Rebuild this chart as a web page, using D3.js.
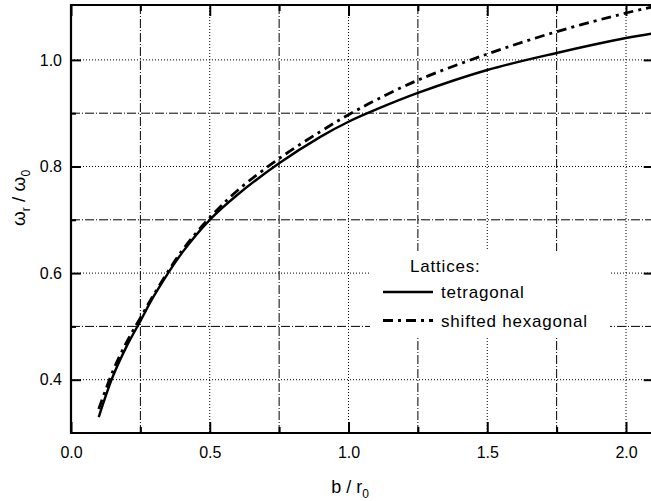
<!DOCTYPE html>
<html>
<head>
<meta charset="utf-8">
<script src="https://cdn.jsdelivr.net/npm/d3@7"></script>
<style>
  html, body { margin: 0; padding: 0; background: #fff; }
  svg { display: block; }
  text { font-family: "Liberation Sans", Arial, Helvetica, sans-serif; fill: #000; }
</style>
</head>
<body>
<svg id="chart" width="651" height="501"></svg>
<script>
// ---- data ----
const bValues = [0.1, 0.15, 0.2, 0.25, 0.3, 0.4, 0.5, 0.6, 0.75, 0.9, 1.0, 1.1, 1.25, 1.5, 1.75, 2.0, 2.1];
const tetragonal = [0.330, 0.405, 0.462, 0.510, 0.558, 0.638, 0.700, 0.747, 0.806, 0.856, 0.884, 0.907, 0.938, 0.981, 1.013, 1.041, 1.050];
const shiftedHexagonal = [0.345, 0.415, 0.470, 0.516, 0.561, 0.642, 0.704, 0.755, 0.815, 0.866, 0.897, 0.925, 0.962, 1.011, 1.053, 1.088, 1.100];
const seriesNames = ["tetragonal", "shifted hexagonal"];
const xTickLabels = ["0.0", "0.5", "1.0", "1.5", "2.0"];
const yTickLabels = ["0.4", "0.6", "0.8", "1.0"];
const legendTitle = "Lattices:";

// ---- layout ----
const svg = d3.select("#chart");
const L = 71, B = 433, T = 5;
const x = d3.scaleLinear().domain([0, 2.1]).range([L, L + 2.1 * 277.5]);
const y = d3.scaleLinear().domain([0.3, 1.103]).range([B, T]);
const R = x(2.1);

svg.append("clipPath").attr("id", "plotclip")
  .append("rect").attr("x", L).attr("y", T).attr("width", R - L).attr("height", B - T);

const grid = svg.append("g").attr("clip-path", "url(#plotclip)");

// vertical grid
const xMajor = xTickLabels.map(Number);
const xMinor = [0.25, 0.75, 1.25, 1.75];
grid.selectAll(".vmaj").data(xMajor.slice(1)).join("line")
  .attr("x1", d => x(d)).attr("x2", d => x(d)).attr("y1", T).attr("y2", B)
  .attr("stroke", "#000").attr("stroke-width", 1).attr("stroke-dasharray", "1,2");
grid.selectAll(".vmin").data(xMinor).join("line")
  .attr("x1", d => x(d)).attr("x2", d => x(d)).attr("y1", T).attr("y2", B)
  .attr("stroke", "#000").attr("stroke-width", 1).attr("stroke-dasharray", "9,2,1,2");

// horizontal grid
const yMajor = yTickLabels.map(Number);
const yMinor = [0.5, 0.7, 0.9];
grid.selectAll(".hmaj").data(yMajor).join("line")
  .attr("x1", L).attr("x2", R).attr("y1", d => y(d)).attr("y2", d => y(d))
  .attr("stroke", "#000").attr("stroke-width", 1).attr("stroke-dasharray", "1,2");
grid.selectAll(".hmin").data(yMinor).join("line")
  .attr("x1", L).attr("x2", R).attr("y1", d => y(d)).attr("y2", d => y(d))
  .attr("stroke", "#000").attr("stroke-width", 1).attr("stroke-dasharray", "9,2,1,2");

// legend background (covers grid)
svg.append("rect").attr("x", 370).attr("y", 251).attr("width", 240).attr("height", 87).attr("fill", "#fff");

// curves
const line = d3.line().x(d => x(d[0])).y(d => y(d[1])).curve(d3.curveCatmullRom.alpha(0.5));
const plot = svg.append("g").attr("clip-path", "url(#plotclip)");
plot.append("path").datum(bValues.map((b, i) => [b, tetragonal[i]]))
  .attr("d", line).attr("fill", "none").attr("stroke", "#000").attr("stroke-width", 2.4);
plot.append("path").datum(bValues.map((b, i) => [b, shiftedHexagonal[i]]))
  .attr("d", line).attr("fill", "none").attr("stroke", "#000").attr("stroke-width", 2.8)
  .attr("stroke-dasharray", "10,5,3,5");

// axes frame with inward ticks
const ax = svg.append("g");
const xAxisB = d3.axisBottom(x).tickValues(xMajor).tickSize(-11).tickFormat((d, i) => xTickLabels[i]).tickPadding(14);
const gB = ax.append("g").attr("transform", `translate(0,${B})`).call(xAxisB);
const gBm = ax.append("g").attr("transform", `translate(0,${B})`).call(d3.axisBottom(x).tickValues(xMinor).tickSize(-6).tickFormat(""));
const gT = ax.append("g").attr("transform", `translate(0,${T})`).call(d3.axisTop(x).tickValues(xMajor).tickSize(-11).tickFormat(""));
const gTm = ax.append("g").attr("transform", `translate(0,${T})`).call(d3.axisTop(x).tickValues(xMinor).tickSize(-6).tickFormat(""));
const yAxisL = d3.axisLeft(y).tickValues(yMajor).tickSize(-10).tickFormat((d, i) => yTickLabels[i]).tickPadding(9);
const gL = ax.append("g").attr("transform", `translate(${L},0)`).call(yAxisL);
const gLm = ax.append("g").attr("transform", `translate(${L},0)`).call(d3.axisLeft(y).tickValues(yMinor).tickSize(-5).tickFormat(""));
const gR = ax.append("g").attr("transform", `translate(${R},0)`).call(d3.axisRight(y).tickValues(yMajor).tickSize(-10).tickFormat(""));

[gB, gBm, gT, gTm, gL, gLm, gR].forEach(g => {
  g.select(".domain").remove();
  g.selectAll(".tick line").attr("stroke", "#000").attr("stroke-width", 2);
  g.selectAll(".tick text").style("font-size", "16px").attr("fill", "#000")
    .style("font-family", '"Liberation Sans", Arial, sans-serif');
});
gB.selectAll(".tick text").attr("dy", "0.71em");

// frame lines
svg.append("line").attr("x1", L).attr("x2", L).attr("y1", T - 1).attr("y2", B + 1).attr("stroke", "#000").attr("stroke-width", 2.2);
svg.append("line").attr("x1", L - 1).attr("x2", R).attr("y1", B).attr("y2", B).attr("stroke", "#000").attr("stroke-width", 2.2);
svg.append("line").attr("x1", L - 1).attr("x2", R).attr("y1", T).attr("y2", T).attr("stroke", "#000").attr("stroke-width", 2.2);

// axis labels
const xl = svg.append("text").attr("x", 350).attr("y", 493).attr("text-anchor", "middle").style("font-size", "18px");
xl.append("tspan").text("b / r");
xl.append("tspan").text("0").style("font-size", "12px").attr("dy", 5);

const yl = svg.append("text").attr("transform", "translate(25,198) rotate(-90)").attr("text-anchor", "middle").style("font-size", "19px");
yl.append("tspan").text("ω");
yl.append("tspan").text("r").style("font-size", "12px").attr("dy", 5);
yl.append("tspan").text(" / ω").attr("dy", -5);
yl.append("tspan").text("0").style("font-size", "12px").attr("dy", 5);

// legend
const lg = svg.append("g");
lg.append("text").attr("x", 410).attr("y", 272).text(legendTitle).style("font-size", "17px").style("letter-spacing", "0.8px");
const styles = [{w: 2.4, dash: null}, {w: 2.8, dash: "10,5,3,5"}];
seriesNames.forEach((name, i) => {
  const yy = 292 + i * 28.5;
  lg.append("line").attr("x1", 383).attr("x2", 433).attr("y1", yy).attr("y2", yy)
    .attr("stroke", "#000").attr("stroke-width", styles[i].w)
    .attr("stroke-dasharray", styles[i].dash);
  lg.append("text").attr("x", 441).attr("y", yy + 6).text(name).style("font-size", "17px").style("letter-spacing", "0.8px");
});
</script>
</body>
</html>
